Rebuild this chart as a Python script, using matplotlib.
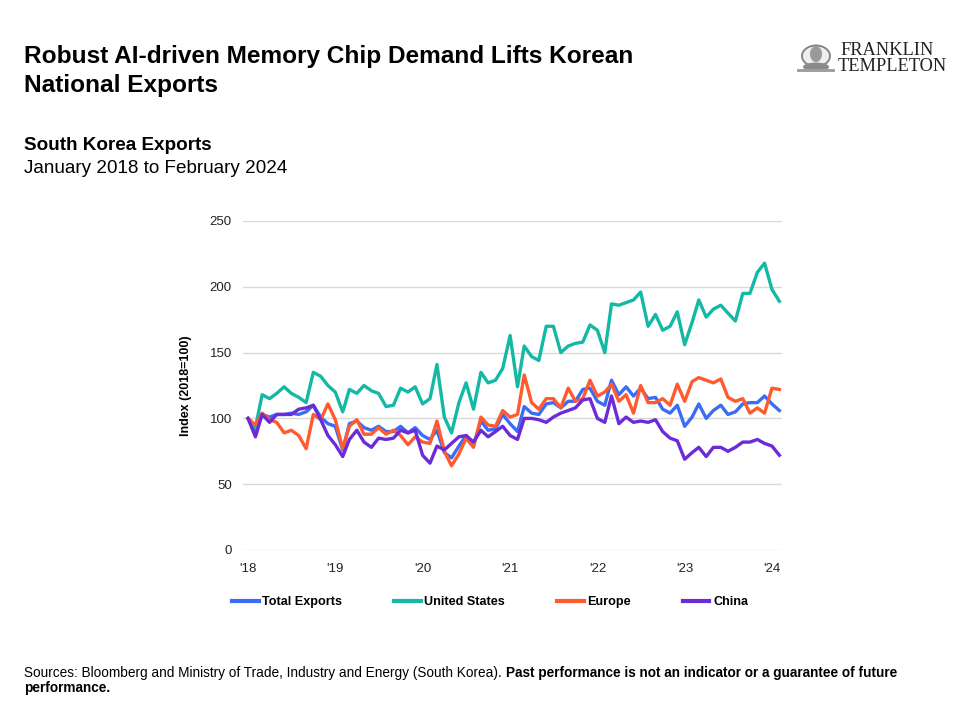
import matplotlib.pyplot as plt
import pandas as pd
from matplotlib.patches import Circle, Ellipse, Rectangle

plt.rcParams['font.family'] = ['Liberation Sans', 'DejaVu Sans']

# Monthly export index, Jan 2018 - Feb 2024 (2018 = 100)
months = pd.date_range('2018-01-01', periods=74, freq='MS')
total_exports = [100, 91, 103, 101, 103, 103, 104, 103, 105, 110, 101, 96,
                 94, 76, 96, 98, 93, 91, 94, 90, 90, 94, 89, 93,
                 87, 84, 91, 74, 70, 79, 87, 80, 98, 91, 92, 103,
                 96, 90, 109, 104, 103, 111, 112, 108, 113, 113, 122, 123,
                 113, 110, 129, 118, 124, 117, 123, 115, 116, 107, 104, 110,
                 94, 101, 111, 100, 106, 110, 103, 105, 111, 112, 112, 117,
                 111, 106]
united_states = [100, 93, 118, 115, 119, 124, 119, 116, 112, 135, 132, 125,
                 120, 105, 122, 119, 125, 121, 119, 109, 110, 123, 120, 124,
                 111, 115, 141, 101, 89, 112, 127, 107, 135, 127, 129, 138,
                 163, 124, 155, 147, 144, 170, 170, 150, 155, 157, 158, 171,
                 167, 150, 187, 186, 188, 190, 196, 170, 179, 167, 170, 181,
                 156, 173, 190, 177, 183, 186, 180, 174, 195, 195, 211, 218,
                 198, 189]
europe = [100, 95, 104, 99, 97, 89, 91, 87, 77, 103, 99, 111,
          99, 77, 94, 99, 88, 88, 93, 88, 91, 87, 80, 86,
          82, 81, 98, 75, 64, 73, 85, 78, 101, 95, 94, 106,
          101, 103, 133, 112, 107, 115, 115, 108, 123, 113, 115, 129,
          117, 120, 126, 113, 118, 104, 125, 112, 112, 115, 110, 126,
          113, 128, 131, 129, 127, 130, 116, 113, 115, 104, 108, 104,
          123, 122]
china = [100, 86, 103, 97, 103, 103, 103, 107, 108, 110, 99, 87,
         80, 71, 84, 91, 82, 78, 85, 84, 85, 91, 89, 91,
         72, 66, 79, 76, 81, 86, 87, 82, 91, 86, 90, 94,
         87, 84, 100, 100, 99, 97, 101, 104, 106, 108, 114, 115,
         100, 97, 117, 96, 101, 97, 98, 97, 99, 90, 85, 83,
         69, 74, 78, 71, 78, 78, 75, 78, 82, 82, 84, 81,
         79, 72]

series_names = ['Total Exports', 'United States', 'Europe', 'China']
series_values = [total_exports, united_states, europe, china]
colors = ['#3b6cf6', '#13b9a5', '#ff5b2e', '#6c2bd9']

year_ticks = pd.date_range('2018-01-01', '2024-01-01', freq='YS')
year_labels = ["'18", "'19", "'20", "'21", "'22", "'23", "'24"]

fig = plt.figure(figsize=(9.66, 7.26), dpi=100)
ax = fig.add_axes([243 / 966, 1 - 550 / 726, 539 / 966, 329 / 726])

for name, vals, c in zip(series_names, series_values, colors):
    ax.plot(months, vals, color=c, lw=2.4, label=name, solid_joinstyle='round')

ax.set_ylim(0, 250)
ax.set_yticks(range(0, 251, 50))
ax.set_xlim(pd.Timestamp('2017-12-11'), pd.Timestamp('2024-02-12'))
ax.set_xticks(year_ticks)
ax.set_xticklabels(year_labels)
ax.grid(axis='y', color='#d9d9d9', lw=1)
ax.set_axisbelow(True)
for s in ax.spines.values():
    s.set_visible(False)
ax.tick_params(length=0, labelsize=9.5, colors='#222222')
ax.tick_params(axis='y', pad=8)
ax.tick_params(axis='x', pad=9)
ax.set_ylabel('Index (2018=100)', fontsize=9, fontweight='bold')
ax.yaxis.set_label_coords(-0.094, 0.5)

fig.legend(loc='center left', bbox_to_anchor=(232 / 966, 1 - 602 / 726), ncol=4,
           frameon=False, borderpad=0, borderaxespad=0,
           handlelength=2.1, handletextpad=0.3, columnspacing=4.1,
           prop={'weight': 'bold', 'size': 9.1})
for line in fig.legends[0].get_lines():
    line.set_linewidth(3)

# titles
fig.text(24 / 966, 1 - 63 / 726, 'Robust AI-driven Memory Chip Demand Lifts Korean',
         fontsize=17.6, fontweight='bold', va='baseline')
fig.text(24 / 966, 1 - 92 / 726, 'National Exports',
         fontsize=17.6, fontweight='bold', va='baseline')
fig.text(24 / 966, 1 - 150 / 726, 'South Korea Exports',
         fontsize=13.6, fontweight='bold', va='baseline')
fig.text(24 / 966, 1 - 173 / 726, 'January 2018 to February 2024',
         fontsize=13.6, va='baseline')

# footer with bold tail
src = fig.text(24 / 966, 1 - 677 / 726,
               'Sources: Bloomberg and Ministry of Trade, Industry and Energy (South Korea). ',
               fontsize=9.8, va='baseline')
renderer = fig.canvas.get_renderer()
bb = src.get_window_extent(renderer).transformed(fig.transFigure.inverted())
fig.text(bb.x1, 1 - 677 / 726,
         'Past performance is not an indicator or a guarantee of future',
         fontsize=9.8, fontweight='bold', va='baseline')
fig.text(24 / 966, 1 - 692 / 726, 'performance.',
         fontsize=9.8, fontweight='bold', va='baseline')

# logo
cx, cy = 816 / 966, 1 - 56 / 726
fig.patches.append(Circle((cx, cy), 14 / 966, transform=fig.transFigure,
                          facecolor='#eeeeee', edgecolor='#808080', lw=1.3))
fig.patches.append(Ellipse((cx, cy + 2 / 726), 12 / 966, 16 / 726,
                           transform=fig.transFigure, facecolor='#9a9a9a', edgecolor='none'))
fig.patches.append(Ellipse((cx, cy - 11 / 726), 26 / 966, 9 / 726,
                           transform=fig.transFigure, facecolor='#8a8a8a', edgecolor='none'))
fig.patches.append(Rectangle((797 / 966, 1 - 72 / 726), 38 / 966, 3 / 726,
                             transform=fig.transFigure, facecolor='#a0a0a0', edgecolor='none'))
fig.text(840 / 966, 1 - 55 / 726, 'FRANKLIN', family='Liberation Serif', fontsize=13.2,
         va='baseline', color='#222222')
fig.text(838 / 966, 1 - 71 / 726, 'TEMPLETON', family='Liberation Serif', fontsize=13.2,
         va='baseline', color='#222222')

fig.savefig('out.png', dpi=100)
